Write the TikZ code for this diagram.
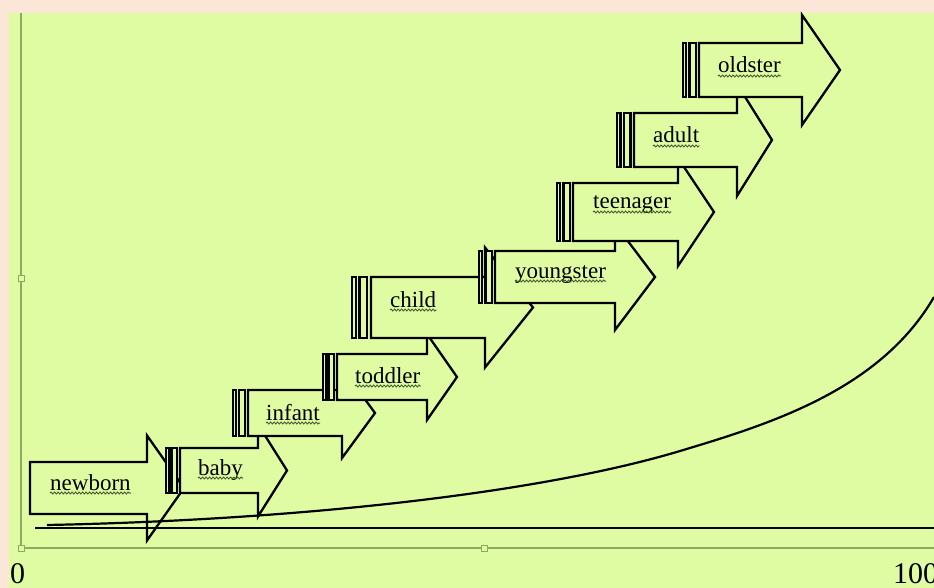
\documentclass[tikz,border=0pt]{standalone}
\usepackage{fontspec}
\setmainfont{Liberation Serif}
\usetikzlibrary{decorations.pathmorphing}
\definecolor{bggreen}{RGB}{223,252,163}
\definecolor{peach}{RGB}{252,230,216}
\definecolor{framegrey}{RGB}{140,170,100}
\definecolor{squig}{RGB}{70,90,50}
\tikzset{
  shapeline/.style={draw=black, fill=bggreen, line width=2.3pt, line join=miter},
  lbl/.style={anchor=base west, inner sep=0pt, font=\fontsize{23}{27}\selectfont},
  wavy/.style={draw=squig, line width=1pt, decorate, decoration={snake, segment length=3.5pt, amplitude=0.9pt}},
  frameline/.style={draw=framegrey, line width=1.3pt},
  handle/.style={draw=framegrey, fill=bggreen, line width=1pt},
  axislbl/.style={anchor=base west, inner sep=0pt, font=\fontsize{30}{34}\selectfont},
  curveline/.style={draw=black, line width=2.2pt},
}
% #1 x0 stripes, #2 body start, #3 centre y, #4 body half height, #5 head half height, #6 head base x, #7 tip x
\newcommand\lifearrow[7]{%
  \pgfmathsetmacro\uu{(#2-#1)/5}%
  \path[shapeline] ({#2},{#3-#4}) -- ({#6},{#3-#4}) -- ({#6},{#3-#5}) -- ({#7},{#3})
     -- ({#6},{#3+#5}) -- ({#6},{#3+#4}) -- ({#2},{#3+#4}) -- cycle;
  \ifdim #1pt<#2pt
    \path[shapeline] ({#1},{#3-#4}) rectangle ({#1+\uu},{#3+#4});
    \path[shapeline] ({#1+2*\uu},{#3-#4}) rectangle ({#1+4*\uu},{#3+#4});
  \fi
}
\newcommand\lifelabel[4]{%
  \node[lbl] (#1) at (#2,#3) {#4};
  \draw[wavy] ([yshift=-3pt]#1.base west) -- ([yshift=-3pt]#1.base east);
}
\begin{document}
\begin{tikzpicture}[x=1pt,y=-1pt]
\useasboundingbox (0,0) rectangle (934,588);
\fill[peach] (0,0) rectangle (934,588);
\fill[bggreen] (9,13) rectangle (934,588);
% frame of the selected object
\draw[frameline] (21,13) -- (21,548) -- (934,548);
% arrows
\lifearrow{30}{30}{488}{26}{52.5}{147}{184}
\lifelabel{newborn}{50}{490}{newborn}
\lifearrow{166}{180}{470.5}{22.5}{46}{258}{287}
\lifelabel{baby}{198}{475}{baby}
\lifearrow{233}{248}{413}{23}{45}{342}{375}
\lifelabel{infant}{266}{420}{infant}
\lifearrow{323}{337}{377}{23}{43}{427}{457}
\lifelabel{toddler}{355}{383}{toddler}
\lifearrow{352}{371}{307.5}{30.5}{60}{485}{533}
\lifelabel{child}{390}{307}{child}
\lifearrow{479}{495}{277}{26}{53}{615}{655}
\lifelabel{youngster}{515}{278}{youngster}
\lifearrow{557}{573}{212}{29}{54}{678}{714}
\lifelabel{teenager}{593}{209}{teenager}
\lifearrow{617}{634}{140}{27}{56}{737}{772}
\lifelabel{adult}{653}{143}{adult}
\lifearrow{683}{699}{70}{27}{55}{802}{840}
\lifelabel{oldster}{718}{73}{oldster}
% baseline and growth curve
\coordinate (bl) at (35,528);
\coordinate (br) at (934,528);
\draw[curveline] (bl) -- (br);
\coordinate (c0) at (47,525);
\coordinate (c1) at (680,451);
\coordinate (c2) at (934,297);
\draw[curveline] (c0) .. controls (300,520) and (540,493) .. (c1)
                      .. controls (770,424) and (880,390) .. (c2);
% selection handles
\draw[handle] (18,275) rectangle (24,281);
\draw[handle] (18,545) rectangle (24,551);
\draw[handle] (481,545) rectangle (487,551);
% axis labels
\node[axislbl] (zero) at (10,583) {0};
\node[axislbl] (hundred) at (893,583) {100};
\end{tikzpicture}
\end{document}
